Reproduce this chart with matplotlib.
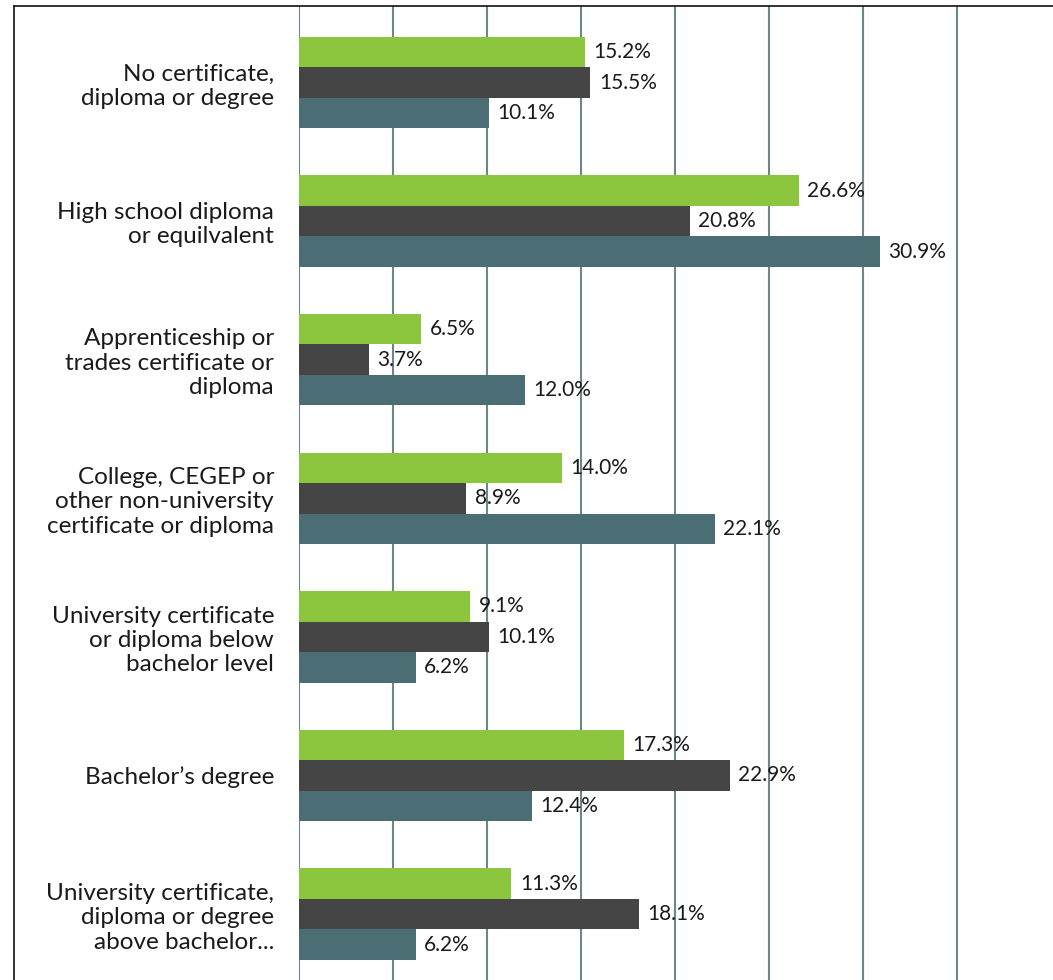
import matplotlib
matplotlib.use("Agg")
import matplotlib.pyplot as plt
from matplotlib.lines import Line2D
import numpy as np

plt.rcParams['font.family'] = ['Lato', 'DejaVu Sans']

# categories (top to bottom)
categories = [
    "No certificate,\ndiploma or degree",
    "High school diploma\nor equilvalent",
    "Apprenticeship or\ntrades certificate or\ndiploma",
    "College, CEGEP or\nother non-university\ncertificate or diploma",
    "University certificate\nor diploma below\nbachelor level",
    "Bachelor\u2019s degree",
    "University certificate,\ndiploma or degree\nabove bachelor...",
]

# three series, % values
series_green = [15.2, 26.6, 6.5, 14.0, 9.1, 17.3, 11.3]
series_dark = [15.5, 20.8, 3.7, 8.9, 10.1, 22.9, 18.1]
series_teal = [10.1, 30.9, 12.0, 22.1, 6.2, 12.4, 6.2]

colors = ["#8cc63f", "#454545", "#4a6e73"]
grid_color = "#6a878b"

fig = plt.figure(figsize=(10.53, 9.8), dpi=100)
ax = fig.add_axes([299 / 1053, 0, 1 - 299 / 1053, 1 - 6 / 980])

y = np.arange(len(categories))
bar_h = 0.22
for k, (vals, col) in enumerate(zip([series_green, series_dark, series_teal], colors)):
    pos = y + (k - 1) * bar_h
    ax.barh(pos, vals, height=bar_h, color=col, zorder=3)
    for yy, v in zip(pos, vals):
        ax.annotate(f"{v:.1f}%", (v, yy), xytext=(6, 0), textcoords="offset points",
                    ha="left", va="center", fontsize=15, color="#1a1a1a", zorder=4)

ax.set_xlim(0, 40.1)
ax.set_ylim(6.476, -0.552)
ax.set_xticks(np.arange(0, 40, 5))
ax.xaxis.grid(True, color=grid_color, linewidth=1.5, zorder=0)
ax.tick_params(axis="x", length=0, labelbottom=False)
ax.set_yticks(y)
ax.set_yticklabels(categories, fontsize=17.5, color="#1a1a1a", ha="right")
ax.tick_params(axis="y", length=0, pad=18)
for s in ax.spines.values():
    s.set_visible(False)

# outer frame (top and left edges)
fig.add_artist(Line2D([14 / 1053, 1], [1 - 6 / 980, 1 - 6 / 980], color="#111111", linewidth=1.2))
fig.add_artist(Line2D([14 / 1053, 14 / 1053], [0, 1 - 6 / 980], color="#111111", linewidth=1.2))

fig.savefig("out.png", dpi=100)
